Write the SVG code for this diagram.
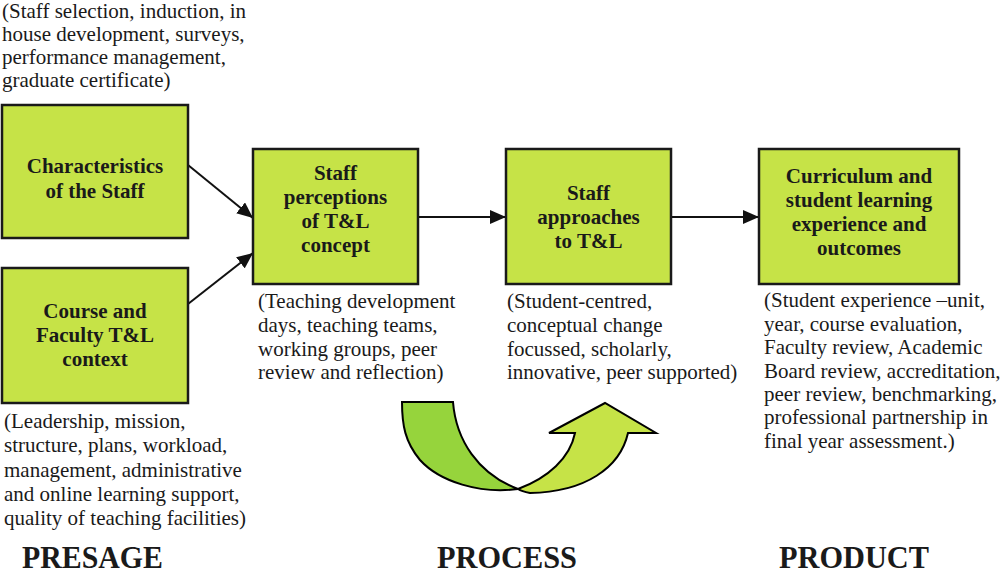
<svg xmlns="http://www.w3.org/2000/svg" width="1000" height="575" viewBox="0 0 1000 575">
<defs>
<style>
.box{fill:#c6e347;stroke:#1a1a1a;stroke-width:2.5}
.bt{font-weight:bold;font-size:21px;fill:#1a1a1a;text-anchor:middle}
.an{font-size:21px;fill:#1a1a1a}
.ph{font-weight:bold;font-size:32px;fill:#1a1a1a}
.con{stroke:#111;stroke-width:2;fill:none}
</style>
<marker id="ah" viewBox="0 0 16 14" refX="16" refY="7" markerWidth="16" markerHeight="14" markerUnits="userSpaceOnUse" orient="auto">
<path d="M0,0 L16,7 L0,14 Z" fill="#111"/>
</marker>
</defs>
<rect width="1000" height="575" fill="#fff"/>

<g id="connectors">
<line class="con" x1="188" y1="165" x2="253" y2="218" marker-end="url(#ah)"/>
<line class="con" x1="188" y1="304" x2="253" y2="253" marker-end="url(#ah)"/>
<line class="con" x1="418" y1="217" x2="506" y2="217" marker-end="url(#ah)"/>
<line class="con" x1="671" y1="217" x2="759" y2="217" marker-end="url(#ah)"/>
</g>

<g id="cycle-arrow" stroke="#000" stroke-width="2" stroke-linejoin="miter">
<path d="M402,402 L453,402 C456,440 478,474 518,489 C480,494 440,482 420,460 C405,442 402,425 402,402 Z" fill="#96d43c"/>
<path d="M518,489 C548,478 570,458 575,433 L549,433 L605,403 L656,433 L628,433 C620,468 585,492 530,493 C525,492 521,491 518,489 Z" fill="#c6e347"/>
</g>

<g font-family="Liberation Serif, Times New Roman, serif">
<g id="staff-char">
<rect class="box" x="2" y="105" width="186" height="133"/>
<text class="bt" x="95" y="173">Characteristics</text>
<text class="bt" x="95" y="198">of the Staff</text>
</g>

<g id="course-context">
<rect class="box" x="2" y="268" width="186" height="135"/>
<text class="bt" x="95" y="318">Course and</text>
<text class="bt" x="95" y="342">Faculty T&amp;L</text>
<text class="bt" x="95" y="366">context</text>
</g>

<g id="staff-perceptions">
<rect class="box" x="253" y="149" width="165" height="135"/>
<text class="bt" x="335.5" y="180">Staff</text>
<text class="bt" x="335.5" y="204">perceptions</text>
<text class="bt" x="335.5" y="228">of T&amp;L</text>
<text class="bt" x="335.5" y="252">concept</text>
</g>

<g id="staff-approaches">
<rect class="box" x="506" y="149" width="165" height="135"/>
<text class="bt" x="588.5" y="200">Staff</text>
<text class="bt" x="588.5" y="224">approaches</text>
<text class="bt" x="588.5" y="248">to T&amp;L</text>
</g>

<g id="curriculum">
<rect class="box" x="759" y="149" width="200" height="135"/>
<text class="bt" x="859" y="183">Curriculum and</text>
<text class="bt" x="859" y="207">student learning</text>
<text class="bt" x="859" y="231">experience and</text>
<text class="bt" x="859" y="255">outcomes</text>
</g>

<g id="annotations">
<text class="an" x="2" y="18">(Staff selection, induction, in</text>
<text class="an" x="2" y="41">house development, surveys,</text>
<text class="an" x="2" y="64">performance management,</text>
<text class="an" x="2" y="87">graduate certificate)</text>

<text class="an" x="4" y="428">(Leadership, mission,</text>
<text class="an" x="4" y="452">structure, plans, workload,</text>
<text class="an" x="4" y="477">management, administrative</text>
<text class="an" x="4" y="501">and online learning support,</text>
<text class="an" x="4" y="525">quality of teaching facilities)</text>

<text class="an" x="258" y="308">(Teaching development</text>
<text class="an" x="258" y="332">days, teaching teams,</text>
<text class="an" x="258" y="356">working groups, peer</text>
<text class="an" x="258" y="379">review and reflection)</text>

<text class="an" x="507" y="308">(Student-centred,</text>
<text class="an" x="507" y="332">conceptual change</text>
<text class="an" x="507" y="356">focussed, scholarly,</text>
<text class="an" x="507" y="379">innovative, peer supported)</text>

<text class="an" x="764" y="307">(Student experience –unit,</text>
<text class="an" x="764" y="331">year, course evaluation,</text>
<text class="an" x="764" y="354">Faculty review, Academic</text>
<text class="an" x="764" y="378">Board review, accreditation,</text>
<text class="an" x="764" y="401">peer review, benchmarking,</text>
<text class="an" x="764" y="424">professional partnership in</text>
<text class="an" x="764" y="448">final year assessment.)</text>
</g>

<g id="phases">
<text class="ph" x="22" y="568" textLength="141" lengthAdjust="spacingAndGlyphs">PRESAGE</text>
<text class="ph" x="437" y="568" textLength="140" lengthAdjust="spacingAndGlyphs">PROCESS</text>
<text class="ph" x="779" y="568" textLength="150" lengthAdjust="spacingAndGlyphs">PRODUCT</text>
</g>
</g>
</svg>
